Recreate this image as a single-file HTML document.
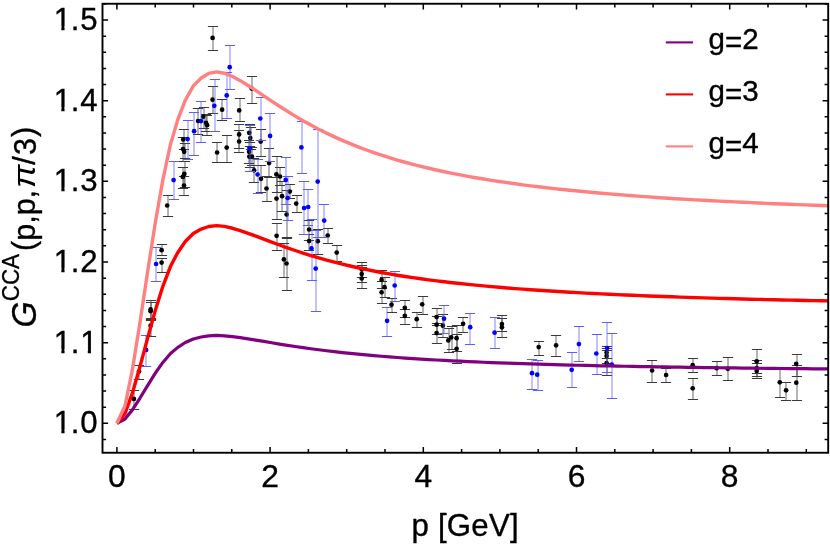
<!DOCTYPE html>
<html><head><meta charset="utf-8"><title>G CCA plot</title>
<style>
html,body{margin:0;padding:0;background:#fff;}
svg{display:block;will-change:transform;font-family:"Liberation Sans",sans-serif;}
text{stroke:#000;stroke-width:0.35px;stroke-linejoin:round;}
</style></head><body>
<svg width="830" height="548" viewBox="0 0 830 548">
<rect width="830" height="548" fill="#fff"/>
<path d="M134,390.5V409.5M139,365.5V379.5M151,300.5V320.5M151,302.5V319.5M151,318.5V336.5M162,244.5V255.5M162,258.5V272.5M168,195.5V216.5M185,161.5V187.5M183,167.5V188.5M184,176.5V195.5M184,129.5V149.5M183,137.5V161.5M185,143.5V158.5M198,108.5V134.5M204,107.5V128.5M206,114.5V131.5M207,115.5V135.5M213,86.5V113.5M222,99.5V120.5M217,142.5V162.5M227,135.5V162.5M240,98.5V121.5M239,124.5V148.5M239,130.5V152.5M250,124.5V142.5M251,127.5V149.5M261,129.5V156.5M252,76.5V103.5M213,26.5V50.5M249,140.5V163.5M250,146.5V167.5M252,147.5V165.5M254,158.5V182.5M269,148.5V177.5M277,156.5V192.5M280,167.5V185.5M261,165.5V192.5M267,176.5V201.5M277,177.5V219.5M282,181.5V211.5M290,184.5V198.5M297,195.5V212.5M287,190.5V238.5M309,220.5V240.5M309,234.5V250.5M318,229.5V254.5M328,228.5V243.5M337,245.5V261.5M277,223.5V250.5M284,243.5V277.5M287,237.5V290.5M362,265.5V282.5M362,267.5V288.5M362,262.5V277.5M382,270.5V288.5M382,281.5V303.5M385,277.5V297.5M392,298.5V312.5M405,300.5V317.5M405,309.5V324.5M423,296.5V314.5M417,312.5V327.5M437,308.5V325.5M437,316.5V334.5M437,323.5V343.5M443,314.5V337.5M449,328.5V352.5M452,326.5V349.5M457,325.5V351.5M457,334.5V363.5M463,317.5V332.5M502,315.5V331.5M502,318.5V337.5M539,341.5V355.5M556,335.5V356.5M607,346.5V358.5M607,348.5V363.5M607,350.5V375.5M652,360.5V382.5M666,368.5V382.5M693,358.5V372.5M693,378.5V399.5M717,361.5V375.5M728,357.5V380.5M757,349.5V373.5M757,363.5V378.5M757,360.5V376.5M780,368.5V397.5M786,382.5V400.5M797,354.5V376.5M797,365.5V400.5" stroke="#3a3a3a" stroke-width="0.75" fill="none"/>
<path d="M128.9,390.5h10.2M128.9,409.5h10.2M133.9,365.5h10.2M133.9,379.5h10.2M145.9,300.5h10.2M145.9,320.5h10.2M145.9,302.5h10.2M145.9,319.5h10.2M145.9,318.5h10.2M145.9,336.5h10.2M156.9,244.5h10.2M156.9,255.5h10.2M156.9,258.5h10.2M156.9,272.5h10.2M162.9,195.5h10.2M162.9,216.5h10.2M179.9,161.5h10.2M179.9,187.5h10.2M177.9,167.5h10.2M177.9,188.5h10.2M178.9,176.5h10.2M178.9,195.5h10.2M178.9,129.5h10.2M178.9,149.5h10.2M177.9,137.5h10.2M177.9,161.5h10.2M179.9,143.5h10.2M179.9,158.5h10.2M192.9,108.5h10.2M192.9,134.5h10.2M198.9,107.5h10.2M198.9,128.5h10.2M200.9,114.5h10.2M200.9,131.5h10.2M201.9,115.5h10.2M201.9,135.5h10.2M207.9,86.5h10.2M207.9,113.5h10.2M216.9,99.5h10.2M216.9,120.5h10.2M211.9,142.5h10.2M211.9,162.5h10.2M221.9,135.5h10.2M221.9,162.5h10.2M234.9,98.5h10.2M234.9,121.5h10.2M233.9,124.5h10.2M233.9,148.5h10.2M233.9,130.5h10.2M233.9,152.5h10.2M244.9,124.5h10.2M244.9,142.5h10.2M245.9,127.5h10.2M245.9,149.5h10.2M255.9,129.5h10.2M255.9,156.5h10.2M246.9,76.5h10.2M246.9,103.5h10.2M207.9,26.5h10.2M207.9,50.5h10.2M243.9,140.5h10.2M243.9,163.5h10.2M244.9,146.5h10.2M244.9,167.5h10.2M246.9,147.5h10.2M246.9,165.5h10.2M248.9,158.5h10.2M248.9,182.5h10.2M263.9,148.5h10.2M263.9,177.5h10.2M271.9,156.5h10.2M271.9,192.5h10.2M274.9,167.5h10.2M274.9,185.5h10.2M255.9,165.5h10.2M255.9,192.5h10.2M261.9,176.5h10.2M261.9,201.5h10.2M271.9,177.5h10.2M271.9,219.5h10.2M276.9,181.5h10.2M276.9,211.5h10.2M284.9,184.5h10.2M284.9,198.5h10.2M291.9,195.5h10.2M291.9,212.5h10.2M281.9,190.5h10.2M281.9,238.5h10.2M303.9,220.5h10.2M303.9,240.5h10.2M303.9,234.5h10.2M303.9,250.5h10.2M312.9,229.5h10.2M312.9,254.5h10.2M322.9,228.5h10.2M322.9,243.5h10.2M331.9,245.5h10.2M331.9,261.5h10.2M271.9,223.5h10.2M271.9,250.5h10.2M278.9,243.5h10.2M278.9,277.5h10.2M281.9,237.5h10.2M281.9,290.5h10.2M356.9,265.5h10.2M356.9,282.5h10.2M356.9,267.5h10.2M356.9,288.5h10.2M356.9,262.5h10.2M356.9,277.5h10.2M376.9,270.5h10.2M376.9,288.5h10.2M376.9,281.5h10.2M376.9,303.5h10.2M379.9,277.5h10.2M379.9,297.5h10.2M386.9,298.5h10.2M386.9,312.5h10.2M399.9,300.5h10.2M399.9,317.5h10.2M399.9,309.5h10.2M399.9,324.5h10.2M417.9,296.5h10.2M417.9,314.5h10.2M411.9,312.5h10.2M411.9,327.5h10.2M431.9,308.5h10.2M431.9,325.5h10.2M431.9,316.5h10.2M431.9,334.5h10.2M431.9,323.5h10.2M431.9,343.5h10.2M437.9,314.5h10.2M437.9,337.5h10.2M443.9,328.5h10.2M443.9,352.5h10.2M446.9,326.5h10.2M446.9,349.5h10.2M451.9,325.5h10.2M451.9,351.5h10.2M451.9,334.5h10.2M451.9,363.5h10.2M457.9,317.5h10.2M457.9,332.5h10.2M496.9,315.5h10.2M496.9,331.5h10.2M496.9,318.5h10.2M496.9,337.5h10.2M533.9,341.5h10.2M533.9,355.5h10.2M550.9,335.5h10.2M550.9,356.5h10.2M601.9,346.5h10.2M601.9,358.5h10.2M601.9,348.5h10.2M601.9,363.5h10.2M601.9,350.5h10.2M601.9,375.5h10.2M646.9,360.5h10.2M646.9,382.5h10.2M660.9,368.5h10.2M660.9,382.5h10.2M687.9,358.5h10.2M687.9,372.5h10.2M687.9,378.5h10.2M687.9,399.5h10.2M711.9,361.5h10.2M711.9,375.5h10.2M722.9,357.5h10.2M722.9,380.5h10.2M751.9,349.5h10.2M751.9,373.5h10.2M751.9,363.5h10.2M751.9,378.5h10.2M751.9,360.5h10.2M751.9,376.5h10.2M774.9,368.5h10.2M774.9,397.5h10.2M780.9,382.5h10.2M780.9,400.5h10.2M791.9,354.5h10.2M791.9,376.5h10.2M791.9,365.5h10.2M791.9,400.5h10.2" stroke="#3a3a3a" stroke-width="1.0" fill="none"/>
<g fill="#000"><circle cx="133.90" cy="398.90" r="2.35"/><circle cx="139.00" cy="371.60" r="2.35"/><circle cx="150.60" cy="309.40" r="2.35"/><circle cx="150.60" cy="311.20" r="2.35"/><circle cx="150.60" cy="325.70" r="2.35"/><circle cx="161.60" cy="250.20" r="2.35"/><circle cx="161.60" cy="262.60" r="2.35"/><circle cx="167.20" cy="205.50" r="2.35"/><circle cx="184.30" cy="173.90" r="2.35"/><circle cx="182.80" cy="176.90" r="2.35"/><circle cx="184.00" cy="185.50" r="2.35"/><circle cx="183.20" cy="139.40" r="2.35"/><circle cx="183.00" cy="149.10" r="2.35"/><circle cx="184.20" cy="151.80" r="2.35"/><circle cx="198.10" cy="121.00" r="2.35"/><circle cx="203.20" cy="116.70" r="2.35"/><circle cx="206.00" cy="122.80" r="2.35"/><circle cx="207.10" cy="125.20" r="2.35"/><circle cx="212.60" cy="99.70" r="2.35"/><circle cx="222.10" cy="109.70" r="2.35"/><circle cx="217.10" cy="152.50" r="2.35"/><circle cx="226.70" cy="147.60" r="2.35"/><circle cx="239.20" cy="110.40" r="2.35"/><circle cx="239.10" cy="134.40" r="2.35"/><circle cx="239.10" cy="141.50" r="2.35"/><circle cx="249.20" cy="132.80" r="2.35"/><circle cx="250.30" cy="138.00" r="2.35"/><circle cx="260.70" cy="141.60" r="2.35"/><circle cx="251.70" cy="88.60" r="2.35"/><circle cx="212.60" cy="37.90" r="2.35"/><circle cx="249.10" cy="151.80" r="2.35"/><circle cx="249.30" cy="156.60" r="2.35"/><circle cx="252.00" cy="156.60" r="2.35"/><circle cx="254.10" cy="170.30" r="2.35"/><circle cx="269.10" cy="163.10" r="2.35"/><circle cx="276.40" cy="174.40" r="2.35"/><circle cx="280.00" cy="176.50" r="2.35"/><circle cx="261.00" cy="178.80" r="2.35"/><circle cx="266.50" cy="188.50" r="2.35"/><circle cx="276.50" cy="198.60" r="2.35"/><circle cx="282.10" cy="196.20" r="2.35"/><circle cx="289.80" cy="191.60" r="2.35"/><circle cx="296.20" cy="203.60" r="2.35"/><circle cx="286.60" cy="214.50" r="2.35"/><circle cx="309.10" cy="229.50" r="2.35"/><circle cx="309.10" cy="241.10" r="2.35"/><circle cx="317.80" cy="241.20" r="2.35"/><circle cx="327.70" cy="235.60" r="2.35"/><circle cx="336.70" cy="252.60" r="2.35"/><circle cx="276.60" cy="235.80" r="2.35"/><circle cx="283.90" cy="259.40" r="2.35"/><circle cx="286.50" cy="263.50" r="2.35"/><circle cx="361.70" cy="274.10" r="2.35"/><circle cx="361.70" cy="278.50" r="2.35"/><circle cx="361.70" cy="269.50" r="2.35"/><circle cx="381.60" cy="279.90" r="2.35"/><circle cx="381.60" cy="292.30" r="2.35"/><circle cx="384.50" cy="287.20" r="2.35"/><circle cx="391.50" cy="304.70" r="2.35"/><circle cx="404.80" cy="307.80" r="2.35"/><circle cx="404.80" cy="315.80" r="2.35"/><circle cx="422.20" cy="304.30" r="2.35"/><circle cx="416.70" cy="319.20" r="2.35"/><circle cx="436.60" cy="317.10" r="2.35"/><circle cx="436.60" cy="324.70" r="2.35"/><circle cx="436.60" cy="333.10" r="2.35"/><circle cx="442.90" cy="325.70" r="2.35"/><circle cx="448.30" cy="340.40" r="2.35"/><circle cx="451.20" cy="337.40" r="2.35"/><circle cx="456.60" cy="338.20" r="2.35"/><circle cx="456.60" cy="348.80" r="2.35"/><circle cx="463.10" cy="323.80" r="2.35"/><circle cx="501.90" cy="324.10" r="2.35"/><circle cx="501.90" cy="327.30" r="2.35"/><circle cx="538.70" cy="347.10" r="2.35"/><circle cx="556.10" cy="345.30" r="2.35"/><circle cx="606.60" cy="352.50" r="2.35"/><circle cx="606.60" cy="356.00" r="2.35"/><circle cx="606.60" cy="363.00" r="2.35"/><circle cx="652.10" cy="370.50" r="2.35"/><circle cx="666.10" cy="375.00" r="2.35"/><circle cx="692.70" cy="365.20" r="2.35"/><circle cx="692.70" cy="388.30" r="2.35"/><circle cx="716.60" cy="368.20" r="2.35"/><circle cx="727.80" cy="368.80" r="2.35"/><circle cx="756.70" cy="361.30" r="2.35"/><circle cx="756.70" cy="370.90" r="2.35"/><circle cx="756.70" cy="368.00" r="2.35"/><circle cx="779.80" cy="382.30" r="2.35"/><circle cx="786.10" cy="390.30" r="2.35"/><circle cx="796.20" cy="363.80" r="2.35"/><circle cx="796.30" cy="382.70" r="2.35"/></g>
<path d="M146,335.5V366.5M156,247.5V281.5M174,161.5V199.5M188,120.5V159.5M194,112.5V155.5M201,101.5V142.5M215,79.5V131.5M227,72.5V118.5M230,45.5V89.5M261,97.5V140.5M250,125.5V171.5M270,113.5V161.5M258,159.5V193.5M286,157.5V204.5M288,176.5V220.5M302,121.5V173.5M318,129.5V237.5M304,181.5V234.5M308,189.5V225.5M324,204.5V237.5M312,219.5V280.5M316,230.5V311.5M395,271.5V301.5M387,307.5V336.5M444,305.5V333.5M470,313.5V344.5M495,317.5V348.5M532,359.5V389.5M538,360.5V390.5M572,352.5V387.5M579,326.5V361.5M597,334.5V374.5M607,322.5V372.5M612,333.5V398.5" stroke="#5c5cff" stroke-width="0.75" fill="none"/>
<path d="M140.9,335.5h10.2M140.9,366.5h10.2M150.9,247.5h10.2M150.9,281.5h10.2M168.9,161.5h10.2M168.9,199.5h10.2M182.9,120.5h10.2M182.9,159.5h10.2M188.9,112.5h10.2M188.9,155.5h10.2M195.9,101.5h10.2M195.9,142.5h10.2M209.9,79.5h10.2M209.9,131.5h10.2M221.9,72.5h10.2M221.9,118.5h10.2M224.9,45.5h10.2M224.9,89.5h10.2M255.9,97.5h10.2M255.9,140.5h10.2M244.9,125.5h10.2M244.9,171.5h10.2M264.9,113.5h10.2M264.9,161.5h10.2M252.9,159.5h10.2M252.9,193.5h10.2M280.9,157.5h10.2M280.9,204.5h10.2M282.9,176.5h10.2M282.9,220.5h10.2M296.9,121.5h10.2M296.9,173.5h10.2M312.9,129.5h10.2M312.9,237.5h10.2M298.9,181.5h10.2M298.9,234.5h10.2M302.9,189.5h10.2M302.9,225.5h10.2M318.9,204.5h10.2M318.9,237.5h10.2M306.9,219.5h10.2M306.9,280.5h10.2M310.9,230.5h10.2M310.9,311.5h10.2M389.9,271.5h10.2M389.9,301.5h10.2M381.9,307.5h10.2M381.9,336.5h10.2M438.9,305.5h10.2M438.9,333.5h10.2M464.9,313.5h10.2M464.9,344.5h10.2M489.9,317.5h10.2M489.9,348.5h10.2M526.9,359.5h10.2M526.9,389.5h10.2M532.9,360.5h10.2M532.9,390.5h10.2M566.9,352.5h10.2M566.9,387.5h10.2M573.9,326.5h10.2M573.9,361.5h10.2M591.9,334.5h10.2M591.9,374.5h10.2M601.9,322.5h10.2M601.9,372.5h10.2M606.9,333.5h10.2M606.9,398.5h10.2" stroke="#5c5cff" stroke-width="1.0" fill="none"/>
<g fill="#0000ff"><circle cx="146.10" cy="349.90" r="2.35"/><circle cx="156.10" cy="264.00" r="2.35"/><circle cx="173.60" cy="180.10" r="2.35"/><circle cx="187.60" cy="139.10" r="2.35"/><circle cx="194.10" cy="131.20" r="2.35"/><circle cx="201.00" cy="121.10" r="2.35"/><circle cx="214.30" cy="105.80" r="2.35"/><circle cx="226.70" cy="95.40" r="2.35"/><circle cx="229.70" cy="67.20" r="2.35"/><circle cx="260.30" cy="118.50" r="2.35"/><circle cx="249.80" cy="148.30" r="2.35"/><circle cx="270.10" cy="135.90" r="2.35"/><circle cx="257.60" cy="174.50" r="2.35"/><circle cx="285.70" cy="179.90" r="2.35"/><circle cx="287.70" cy="198.00" r="2.35"/><circle cx="301.40" cy="147.40" r="2.35"/><circle cx="317.70" cy="181.60" r="2.35"/><circle cx="304.10" cy="208.00" r="2.35"/><circle cx="308.20" cy="207.00" r="2.35"/><circle cx="324.20" cy="220.60" r="2.35"/><circle cx="311.50" cy="248.40" r="2.35"/><circle cx="315.70" cy="268.60" r="2.35"/><circle cx="394.70" cy="285.50" r="2.35"/><circle cx="387.10" cy="320.80" r="2.35"/><circle cx="444.00" cy="318.70" r="2.35"/><circle cx="470.20" cy="327.20" r="2.35"/><circle cx="494.60" cy="332.70" r="2.35"/><circle cx="532.00" cy="373.20" r="2.35"/><circle cx="537.20" cy="374.70" r="2.35"/><circle cx="571.70" cy="369.80" r="2.35"/><circle cx="578.90" cy="344.10" r="2.35"/><circle cx="596.30" cy="353.50" r="2.35"/><circle cx="607.10" cy="348.00" r="2.35"/><circle cx="611.80" cy="364.50" r="2.35"/></g>
<g fill="none" stroke-width="3.2" stroke-linejoin="round" stroke-linecap="butt">
<path d="M116.90,423.30 L124.94,418.97 L132.22,410.14 L139.88,398.29 L147.54,385.56 L155.20,373.29 L162.86,362.43 L170.52,353.52 L177.80,347.38 L185.30,342.53 L193.35,338.93 L201.16,336.96 L208.67,335.84 L216.71,335.46 L224.52,335.79 L232.57,336.61 L240.23,337.64 L248.08,338.84 L255.93,340.13 L263.78,341.44 L271.63,342.76 L279.48,344.05 L287.34,345.30 L295.19,346.50 L303.04,347.65 L310.89,348.74 L318.74,349.78 L326.59,350.76 L334.44,351.69 L342.30,352.57 L350.15,353.40 L358.00,354.18 L365.85,354.92 L373.70,355.61 L381.55,356.27 L389.40,356.89 L397.26,357.48 L405.11,358.04 L412.96,358.56 L420.81,359.06 L428.66,359.53 L436.51,359.98 L444.37,360.41 L452.22,360.81 L460.07,361.19 L467.92,361.56 L475.77,361.91 L483.62,362.24 L491.47,362.55 L499.33,362.86 L507.18,363.14 L515.03,363.42 L522.88,363.68 L530.73,363.93 L538.58,364.18 L546.43,364.41 L554.29,364.63 L562.14,364.84 L569.99,365.04 L577.84,365.24 L585.69,365.43 L593.54,365.61 L601.40,365.78 L609.25,365.95 L617.10,366.11 L624.95,366.27 L632.80,366.41 L640.65,366.56 L648.50,366.70 L656.36,366.83 L664.21,366.96 L672.06,367.09 L679.91,367.21 L687.76,367.33 L695.61,367.44 L703.46,367.55 L711.32,367.66 L719.17,367.76 L727.02,367.86 L734.87,367.95 L742.72,368.05 L750.57,368.14 L758.43,368.23 L766.28,368.31 L774.13,368.40 L781.98,368.48 L789.83,368.55 L797.68,368.63 L805.53,368.70 L813.39,368.78 L821.24,368.85 L828.20,368.91" stroke="#800080"/>
<path d="M116.90,423.30 L124.94,413.56 L132.22,393.68 L139.88,367.03 L147.54,338.38 L155.20,310.78 L162.86,286.35 L170.52,266.28 L177.80,252.49 L185.30,241.56 L193.35,233.47 L201.16,229.03 L208.67,226.51 L216.71,225.66 L224.52,226.40 L232.57,228.26 L240.23,230.57 L248.08,233.27 L255.93,236.16 L263.78,239.12 L271.63,242.08 L279.48,244.98 L287.34,247.79 L295.19,250.50 L303.04,253.09 L310.89,255.55 L318.74,257.88 L326.59,260.09 L334.44,262.18 L342.30,264.16 L350.15,266.02 L358.00,267.78 L365.85,269.44 L373.70,271.01 L381.55,272.49 L389.40,273.88 L397.26,275.20 L405.11,276.46 L412.96,277.64 L420.81,278.76 L428.66,279.82 L436.51,280.83 L444.37,281.79 L452.22,282.70 L460.07,283.56 L467.92,284.38 L475.77,285.17 L483.62,285.91 L491.47,286.62 L499.33,287.30 L507.18,287.95 L515.03,288.57 L522.88,289.16 L530.73,289.73 L538.58,290.27 L546.43,290.79 L554.29,291.29 L562.14,291.76 L569.99,292.22 L577.84,292.66 L585.69,293.09 L593.54,293.49 L601.40,293.88 L609.25,294.26 L617.10,294.62 L624.95,294.97 L632.80,295.31 L640.65,295.63 L648.50,295.95 L656.36,296.25 L664.21,296.54 L672.06,296.82 L679.91,297.10 L687.76,297.36 L695.61,297.61 L703.46,297.86 L711.32,298.10 L719.17,298.33 L727.02,298.55 L734.87,298.77 L742.72,298.98 L750.57,299.19 L758.43,299.38 L766.28,299.58 L774.13,299.76 L781.98,299.95 L789.83,300.12 L797.68,300.29 L805.53,300.46 L813.39,300.62 L821.24,300.78 L828.20,300.91" stroke="#ff0000" stroke-width="3.4"/>
<path d="M116.90,423.30 L124.94,405.99 L132.22,370.65 L139.88,323.26 L147.54,272.34 L155.20,223.27 L162.86,179.83 L170.52,144.16 L177.80,119.64 L185.30,100.21 L193.35,85.83 L201.16,77.93 L208.67,73.45 L216.71,71.93 L224.52,73.26 L232.57,76.55 L240.23,80.66 L248.08,85.47 L255.93,90.61 L263.78,95.87 L271.63,101.13 L279.48,106.29 L287.34,111.29 L295.19,116.10 L303.04,120.70 L310.89,125.07 L318.74,129.23 L326.59,133.16 L334.44,136.87 L342.30,140.38 L350.15,143.69 L358.00,146.82 L365.85,149.77 L373.70,152.55 L381.55,155.18 L389.40,157.67 L397.26,160.02 L405.11,162.24 L412.96,164.35 L420.81,166.34 L428.66,168.23 L436.51,170.02 L444.37,171.72 L452.22,173.34 L460.07,174.87 L467.92,176.33 L475.77,177.73 L483.62,179.05 L491.47,180.32 L499.33,181.52 L507.18,182.68 L515.03,183.78 L522.88,184.83 L530.73,185.84 L538.58,186.80 L546.43,187.72 L554.29,188.61 L562.14,189.46 L569.99,190.27 L577.84,191.06 L585.69,191.81 L593.54,192.53 L601.40,193.23 L609.25,193.90 L617.10,194.54 L624.95,195.16 L632.80,195.76 L640.65,196.34 L648.50,196.89 L656.36,197.43 L664.21,197.95 L672.06,198.45 L679.91,198.94 L687.76,199.40 L695.61,199.86 L703.46,200.30 L711.32,200.72 L719.17,201.13 L727.02,201.53 L734.87,201.92 L742.72,202.29 L750.57,202.65 L758.43,203.01 L766.28,203.35 L774.13,203.68 L781.98,204.00 L789.83,204.32 L797.68,204.62 L805.53,204.92 L813.39,205.20 L821.24,205.48 L828.20,205.73" stroke="#ff8080" stroke-width="3.4"/>
</g>
<path d="M116.90,452.75v-5.8M116.90,3.75v5.8M155.20,452.75v-3.7M155.20,3.75v3.7M193.50,452.75v-3.7M193.50,3.75v3.7M231.80,452.75v-3.7M231.80,3.75v3.7M270.10,452.75v-5.8M270.10,3.75v5.8M308.40,452.75v-3.7M308.40,3.75v3.7M346.70,452.75v-3.7M346.70,3.75v3.7M385.00,452.75v-3.7M385.00,3.75v3.7M423.30,452.75v-5.8M423.30,3.75v5.8M461.60,452.75v-3.7M461.60,3.75v3.7M499.90,452.75v-3.7M499.90,3.75v3.7M538.20,452.75v-3.7M538.20,3.75v3.7M576.50,452.75v-5.8M576.50,3.75v5.8M614.80,452.75v-3.7M614.80,3.75v3.7M653.10,452.75v-3.7M653.10,3.75v3.7M691.40,452.75v-3.7M691.40,3.75v3.7M729.70,452.75v-5.8M729.70,3.75v5.8M768.00,452.75v-3.7M768.00,3.75v3.7M806.30,452.75v-3.7M806.30,3.75v3.7M102.5,439.43h3.6M828.2,439.43h-3.6M102.5,423.30h5.6M828.2,423.30h-5.6M102.5,407.17h3.6M828.2,407.17h-3.6M102.5,391.04h3.6M828.2,391.04h-3.6M102.5,374.91h3.6M828.2,374.91h-3.6M102.5,358.78h3.6M828.2,358.78h-3.6M102.5,342.65h5.6M828.2,342.65h-5.6M102.5,326.52h3.6M828.2,326.52h-3.6M102.5,310.39h3.6M828.2,310.39h-3.6M102.5,294.26h3.6M828.2,294.26h-3.6M102.5,278.13h3.6M828.2,278.13h-3.6M102.5,262.00h5.6M828.2,262.00h-5.6M102.5,245.87h3.6M828.2,245.87h-3.6M102.5,229.74h3.6M828.2,229.74h-3.6M102.5,213.61h3.6M828.2,213.61h-3.6M102.5,197.48h3.6M828.2,197.48h-3.6M102.5,181.35h5.6M828.2,181.35h-5.6M102.5,165.22h3.6M828.2,165.22h-3.6M102.5,149.09h3.6M828.2,149.09h-3.6M102.5,132.96h3.6M828.2,132.96h-3.6M102.5,116.83h3.6M828.2,116.83h-3.6M102.5,100.70h5.6M828.2,100.70h-5.6M102.5,84.57h3.6M828.2,84.57h-3.6M102.5,68.44h3.6M828.2,68.44h-3.6M102.5,52.31h3.6M828.2,52.31h-3.6M102.5,36.18h3.6M828.2,36.18h-3.6M102.5,20.05h5.6M828.2,20.05h-5.6M102.5,3.92h3.6M828.2,3.92h-3.6" stroke="#000" stroke-width="1.5" fill="none"/>
<rect x="102.5" y="3.75" width="725.70" height="449.00" fill="none" stroke="#000" stroke-width="1.9"/>
<text x="53.73 70.85 80.15" y="433.30" font-size="31.2">1.0</text>
<rect x="55.22" y="429.64" width="6.14" height="5.36" fill="#fff"/>
<rect x="64.55" y="429.64" width="6.72" height="5.36" fill="#fff"/>
<text x="53.73 70.85 80.15" y="352.65" font-size="31.2">1.1</text>
<rect x="55.22" y="348.99" width="6.14" height="5.36" fill="#fff"/>
<rect x="64.55" y="348.99" width="6.72" height="5.36" fill="#fff"/>
<rect x="81.64" y="348.99" width="6.14" height="5.36" fill="#fff"/>
<rect x="90.97" y="348.99" width="6.72" height="5.36" fill="#fff"/>
<text x="53.73 70.85 80.15" y="272.00" font-size="31.2">1.2</text>
<rect x="55.22" y="268.34" width="6.14" height="5.36" fill="#fff"/>
<rect x="64.55" y="268.34" width="6.72" height="5.36" fill="#fff"/>
<text x="53.73 70.85 80.15" y="191.35" font-size="31.2">1.3</text>
<rect x="55.22" y="187.69" width="6.14" height="5.36" fill="#fff"/>
<rect x="64.55" y="187.69" width="6.72" height="5.36" fill="#fff"/>
<text x="53.73 70.85 80.15" y="110.70" font-size="31.2">1.4</text>
<rect x="55.22" y="107.04" width="6.14" height="5.36" fill="#fff"/>
<rect x="64.55" y="107.04" width="6.72" height="5.36" fill="#fff"/>
<text x="53.73 70.85 80.15" y="30.05" font-size="31.2">1.5</text>
<rect x="55.22" y="26.39" width="6.14" height="5.36" fill="#fff"/>
<rect x="64.55" y="26.39" width="6.72" height="5.36" fill="#fff"/>
<text x="116.90" y="487.4" text-anchor="middle" font-size="31.8">0</text>
<text x="270.10" y="487.4" text-anchor="middle" font-size="31.8">2</text>
<text x="423.30" y="487.4" text-anchor="middle" font-size="31.8">4</text>
<text x="576.50" y="487.4" text-anchor="middle" font-size="31.8">6</text>
<text x="729.70" y="487.4" text-anchor="middle" font-size="31.8">8</text>
<text x="465.2" y="536.4" text-anchor="middle" font-size="31.2" letter-spacing="0.25">p [GeV]</text>
<text transform="translate(35.6,327.4) rotate(-90) scale(0.95,1)" font-size="35.3" font-style="italic">G</text>
<text transform="translate(19.2,301.3) rotate(-90) scale(0.935,1)" font-size="24" letter-spacing="0">CCA</text>
<text transform="translate(34.2,251.0) rotate(-90)" font-size="30.5">(</text>
<text transform="translate(35.0,240.8) rotate(-90)" font-size="30.5">p,p,</text>
<text transform="translate(35.0,188.1) rotate(-90) scale(1.15,1)" font-size="30.5" font-style="italic" style="stroke:none">π</text>
<text transform="translate(35.0,164.8) rotate(-90)" font-size="30.5">/</text>
<text transform="translate(35.7,154.9) rotate(-90) scale(0.95,1)" font-size="32.2">3</text>
<text transform="translate(34.2,136.9) rotate(-90)" font-size="30.5">)</text>
<path d="M665.8,42.40H693.1" stroke="#800080" stroke-width="2.1"/>
<text x="708.6" y="49.40" font-size="29.5">g<tspan dy="2.3">=</tspan><tspan dy="-2.3">2</tspan></text>
<path d="M665.8,94.40H693.1" stroke="#ff0000" stroke-width="2.1"/>
<text x="708.6" y="101.40" font-size="29.5">g<tspan dy="2.3">=</tspan><tspan dy="-2.3">3</tspan></text>
<path d="M665.8,146.40H693.1" stroke="#ff8080" stroke-width="2.1"/>
<text x="708.6" y="153.40" font-size="29.5">g<tspan dy="2.3">=</tspan><tspan dy="-2.3">4</tspan></text>
</svg>
</body></html>
